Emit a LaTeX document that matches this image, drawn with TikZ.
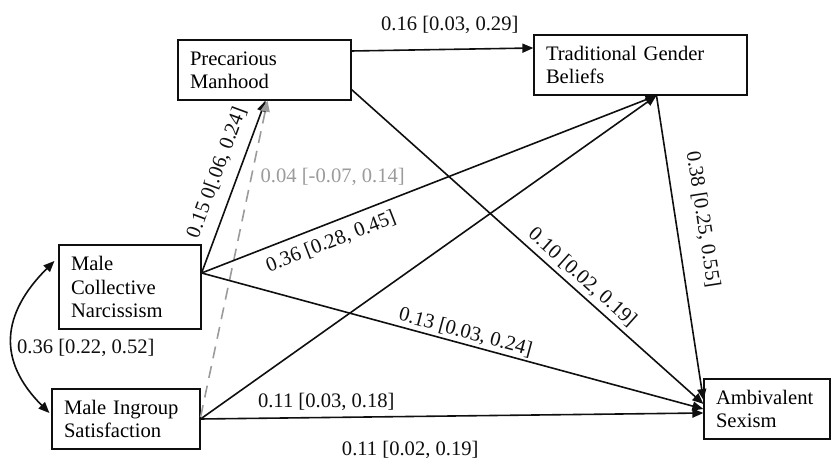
\documentclass[tikz,border=0pt]{standalone}
\usepackage{fontspec}
\setmainfont{Liberation Serif}
\usepackage{tikz}
\usetikzlibrary{arrows.meta}
\definecolor{pathGray}{RGB}{155,155,155}
\definecolor{lineBlack}{RGB}{15,15,15}

\begin{document}
\begin{tikzpicture}[x=0.5pt, y=-0.5pt,
    font=\fontsize{10.3}{11.65}\selectfont,
    varbox/.style 2 args={draw=lineBlack, line width=0.6pt, align=left,
      inner xsep=6pt, inner ysep=0pt, text width=#1, minimum height=#2},
    arr/.style={lineBlack, line width=0.8pt, -{Triangle[length=5.5pt, width=4.5pt]}},
    dasharr/.style={arr, pathGray, dash pattern=on 6pt off 4pt},
    lbl/.style={inner sep=1pt},
    graylbl/.style={lbl, text=pathGray}]
        \useasboundingbox (0,0) rectangle (831,458);
        % the five measures
        \node[varbox={74.5pt}{30pt}] (pm) at (264.5,70) {Precarious\\Manhood};
        \node[varbox={94.5pt}{30pt}] (tgb) at (640.5,65) {Traditional Gender\\Beliefs};
        \node[varbox={59pt}{42pt}] (mcn) at (130,287) {Male\\Collective\\Narcissism};
        \node[varbox={62pt}{30pt}] (mis) at (126,419) {Male Ingroup\\Satisfaction};
        \node[varbox={51pt}{30pt}] (as) at (767,409) {Ambivalent\\Sexism};
        % paths
        \draw[arr] ([yshift=7pt]mcn.east) -- node[lbl, sloped, above=4.5pt, pos=0.54] (l15) {0.15 0[.06, 0.24]} ([xshift=0.5pt]pm.south);
        \draw[dasharr] ([yshift=1pt]mis.east) -- node[graylbl, right=3.2pt, pos=0.76] (l04) {0.04 [-0.07, 0.14]} ([xshift=1.5pt]pm.south);
        \draw[arr] ([yshift=9.5pt]pm.east) -- node[lbl, above=6.6pt, pos=0.54] (l16) {0.16 [0.03, 0.29]} ([yshift=8.5pt]tgb.west);
        \draw[arr] ([yshift=7pt]mcn.east) -- node[lbl, sloped, below=3.3pt, pos=0.27] (l36) {0.36 [0.28, 0.45]} ([xshift=8pt]tgb.south);
        \draw[arr] (mis.east) -- ([xshift=8pt]tgb.south);
        \draw[arr] ([yshift=5.5pt]pm.south east) -- node[lbl, sloped, above=1pt, pos=0.63] (l10) {0.10 [0.02, 0.19]} ([yshift=2.5pt]as.west);
        \draw[arr] ([xshift=8pt]tgb.south) -- node[lbl, sloped, above=7.6pt, pos=0.42] (l38) {0.38 [0.25, 0.55]} ([yshift=4.5pt]as.west);
        \draw[arr] ([yshift=7pt]mcn.east) -- node[lbl, sloped, above=0pt, pos=0.52] (l13) {0.13 [0.03, 0.24]} (as.west);
        \draw[arr] (mis.east) -- node[lbl, above=1.9pt, pos=0.25] (l11a) {0.11 [0.03, 0.18]}
          node[lbl, below=10.9pt, pos=0.417] (l11b) {0.11 [0.02, 0.19]} ([yshift=-2pt]as.west);
        % correlation
        \draw[arr, {Triangle[length=5.5pt, width=4.5pt]}-{Triangle[length=5.5pt, width=4.5pt]}]
          ([xshift=-2pt, yshift=13pt]mcn.west) .. controls +(-52.7,52.7) and +(-52.7,-52.7) ..
          node[lbl, right=1pt, yshift=-5.5pt, pos=0.5] (l36c) {0.36 [0.22, 0.52]}
          ([xshift=-1pt, yshift=3pt]mis.west);
      \end{tikzpicture}
\end{document}
